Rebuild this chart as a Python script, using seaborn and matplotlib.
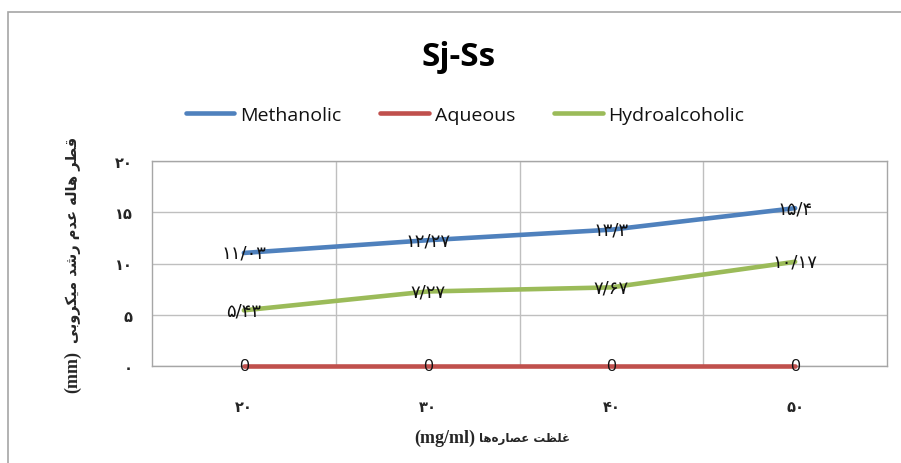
import numpy as np
import pandas as pd
import matplotlib
matplotlib.use("Agg")
import matplotlib.pyplot as plt
import seaborn as sns
from matplotlib.lines import Line2D
from matplotlib.patches import Rectangle

# ---------------- data ----------------
concentrations = ["20", "30", "40", "50"]
series_names = ["Methanolic", "Aqueous", "Hydroalcoholic"]
methanolic = [11.03, 12.27, 13.3, 15.4]
aqueous = [0, 0, 0, 0]
hydroalcoholic = [5.43, 7.27, 7.67, 10.17]
y_ticks = [0, 5, 10, 15, 20]
title = "Sj-Ss"
y_label = "قطر هاله عدم رشد میکروبی"
y_unit = "(mm)"
x_label = "غلظت عصاره\u200cها"
x_unit = "(mg/ml)"
colors = ["#4F81BD", "#C0504D", "#9BBB59"]

# ---------------- Arabic/Persian shaping (visual order) ----------------
FORMS = {
    "\u0627": ("\uFE8D", "\uFE8E", None, None),      # alef
    "\u0628": ("\uFE8F", "\uFE90", "\uFE91", "\uFE92"),  # beh
    "\u062A": ("\uFE95", "\uFE96", "\uFE97", "\uFE98"),  # teh
    "\u062F": ("\uFEA9", "\uFEAA", None, None),      # dal
    "\u0631": ("\uFEAD", "\uFEAE", None, None),      # reh
    "\u0634": ("\uFEB5", "\uFEB6", "\uFEB7", "\uFEB8"),  # sheen
    "\u0635": ("\uFEB9", "\uFEBA", "\uFEBB", "\uFEBC"),  # sad
    "\u0637": ("\uFEC1", "\uFEC2", "\uFEC3", "\uFEC4"),  # tah
    "\u0638": ("\uFEC5", "\uFEC6", "\uFEC7", "\uFEC8"),  # zah
    "\u0639": ("\uFEC9", "\uFECA", "\uFECB", "\uFECC"),  # ain
    "\u063A": ("\uFECD", "\uFECE", "\uFECF", "\uFED0"),  # ghain
    "\u0642": ("\uFED5", "\uFED6", "\uFED7", "\uFED8"),  # qaf
    "\u0644": ("\uFEDD", "\uFEDE", "\uFEDF", "\uFEE0"),  # lam
    "\u0645": ("\uFEE1", "\uFEE2", "\uFEE3", "\uFEE4"),  # meem
    "\u0647": ("\uFEE9", "\uFEEA", "\uFEEB", "\uFEEC"),  # heh
    "\u0648": ("\uFEED", "\uFEEE", None, None),      # waw
    "\u06CC": ("\uFBFC", "\uFBFD", "\uFBFE", "\uFBFF"),  # farsi yeh
    "\u06A9": ("\uFB8E", "\uFB8F", "\uFB90", "\uFB91"),  # keheh
}


def _dual(c):
    return c in FORMS and FORMS[c][2] is not None


def shape_rtl(text):
    out = []
    for i, c in enumerate(text):
        if c not in FORMS:
            if c == "\u200c":
                continue
            out.append(c)
            continue
        prev = text[i - 1] if i > 0 else ""
        nxt = text[i + 1] if i + 1 < len(text) else ""
        jp = _dual(prev)
        jn = _dual(c) and nxt in FORMS
        iso, fin, ini, med = FORMS[c]
        if jp and jn:
            out.append(med)
        elif jp:
            out.append(fin)
        elif jn:
            out.append(ini)
        else:
            out.append(iso)
    return "".join(reversed(out))


PDIG = str.maketrans("0123456789.", "۰۱۲۳۴۵۶۷۸۹/")


def persian(s):
    return str(s).translate(PDIG)


# ---------------- figure ----------------
sns.set_style("white")
plt.rcParams["font.family"] = ["DejaVu Sans"]

W, H = 901, 464
fig = plt.figure(figsize=(W / 100, H / 100), dpi=100)
L, R, T, B = 152, 887, 162, 367
ax = fig.add_axes([L / W, 1 - B / H, (R - L) / W, (B - T) / H])

df = pd.DataFrame({
    "pos": list(range(len(concentrations))) * 3,
    "value": methanolic + aqueous + hydroalcoholic,
    "series": np.repeat(series_names, len(concentrations)),
})
pal = dict(zip(series_names, colors))
sns.lineplot(data=df, x="pos", y="value", hue="series", palette=pal,
             linewidth=3.3, ax=ax, legend=False, sort=False, zorder=3)
for ln in ax.lines:
    ln.set_clip_on(False)
    ln.set_solid_capstyle("round")
    ln.set_solid_joinstyle("round")

ax.set_xlim(-0.5, len(concentrations) - 0.5)
ax.set_ylim(0, 20)
ax.set_yticks(y_ticks)
ax.set_yticklabels([persian(v) for v in y_ticks], fontsize=10.5, fontweight="bold")
ax.set_xticks(range(len(concentrations)))
ax.set_xticklabels([persian(c) for c in concentrations], fontsize=10.5, fontweight="bold")
ax.set_xticks(np.arange(0.5, len(concentrations) - 1, 1.0), minor=True)
ax.tick_params(axis="y", length=0, pad=14)
ax.tick_params(axis="x", which="both", length=0, pad=24)
ax.grid(axis="y", which="major", color="#BFBFBF", linewidth=1)
ax.grid(axis="x", which="minor", color="#BFBFBF", linewidth=1)
ax.grid(axis="x", which="major", visible=False)
for s in ax.spines.values():
    s.set_color("#A6A6A6")
    s.set_linewidth(1)
ax.set_xlabel("")
ax.set_ylabel("")

# data labels
for vals in (methanolic, hydroalcoholic):
    for i, v in enumerate(vals):
        ax.text(i, v, persian(f"{v:g}"), ha="center", va="center",
                fontsize=13, color="#111111", zorder=5)
for i, v in enumerate(aqueous):
    ax.text(i, v, f"{v:g}", ha="center", va="center", fontsize=12.5,
            family="Open Sans", color="#111111", zorder=5, clip_on=False)

# title
fig.text(459 / W, 1 - 58 / H, title, ha="center", va="center",
         fontsize=24, fontweight="bold", family="Open Sans", color="#000000")

# legend
handles = [Line2D([0], [0], color=c, lw=3.3, solid_capstyle="round") for c in colors]
fig.legend(handles, series_names, loc="center", bbox_to_anchor=(465 / W, 1 - 116 / H),
           ncol=3, frameon=False, prop={"family": "Open Sans", "size": 14},
           handlelength=2.5, handletextpad=0.3, columnspacing=2.0,
           labelcolor="#111111")

# axis labels (RTL visual order)
fig.text(73 / W, 1 - 393 / H, y_unit, rotation=90, ha="center", va="bottom",
         fontsize=13, fontweight="bold", family="Liberation Serif")
fig.text(73 / W, 1 - 343 / H, shape_rtl(y_label), rotation=90,
         ha="center", va="bottom", fontsize=10.5, fontweight="bold")
fig.text(475 / W, 1 - 438 / H, x_unit, ha="right", va="center",
         fontsize=13, fontweight="bold", family="Liberation Serif")
fig.text(479 / W, 1 - 439 / H, shape_rtl(x_label), ha="left", va="center",
         fontsize=8.5, fontweight="bold")

# outer chart border
fig.patches.append(Rectangle((8 / W, -0.1), 1.2, 1.1 - 13 / H, transform=fig.transFigure,
                             fill=False, edgecolor="#A6A6A6", linewidth=1.2, figure=fig))

fig.savefig("out.png", dpi=100)
